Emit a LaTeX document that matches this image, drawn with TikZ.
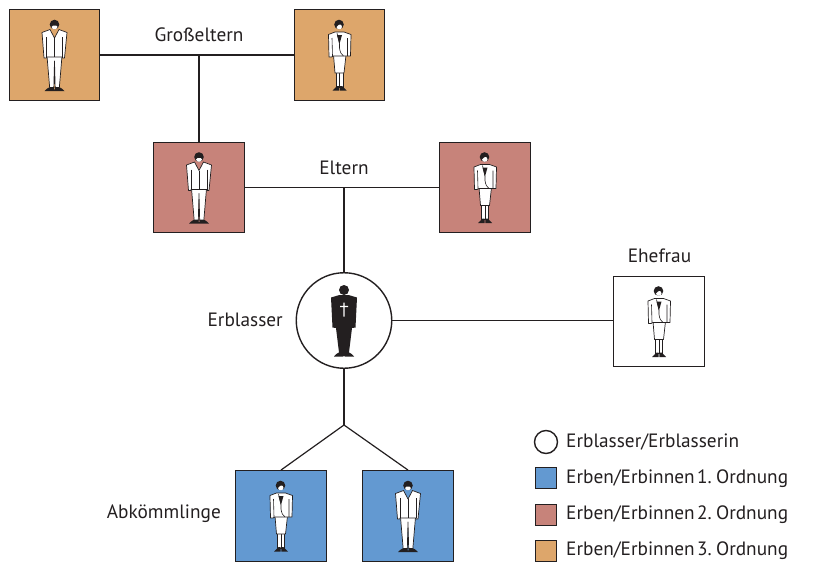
\documentclass[tikz,border=0pt]{standalone}
\usepackage{fontspec}
\setmainfont{PT Sans}
\definecolor{ordnungeins}{HTML}{6399D1}
\definecolor{ordnungzwei}{HTML}{C7837A}
\definecolor{ordnungdrei}{HTML}{DDA66B}
\definecolor{linecolor}{HTML}{231F20}
\tikzset{
  personbox/.style={draw=linecolor,line width=1.4pt,minimum size=90.5pt,inner sep=0pt},
  legendbox/.style={draw=linecolor,line width=1.4pt,minimum size=21.5pt,inner sep=0pt},
  erblasserring/.style={draw=linecolor,line width=1.4pt,fill=white,circle,inner sep=0pt},
  nametext/.style={font=\fontsize{19.3}{22}\selectfont,text=linecolor,inner sep=0pt},
  legendtext/.style={nametext,anchor=west,execute at begin node={\spaceskip=.13em\relax}},
  link/.style={draw=linecolor,line width=1.2pt},
  man/.pic={
    \draw[linecolor,fill=white,line width=.7pt,line join=round]
      (-7.5,1) -- (-4.8,33) -- (-.7,33) -- (0,6) -- (.7,33) -- (4.8,33) -- (7.5,1) -- cycle;
    \draw[linecolor,fill=white,line width=.7pt,line join=round]
      (-4.5,-25.5) -- (-12.5,-22.5) -- (-10.5,3) -- (-8,3) -- (-8,2) -- (8,2) -- (8,3)
      -- (10,3) -- (12.5,-22.5) -- (4.5,-25.5) -- (0,-17) -- cycle;
    \draw[linecolor,line width=.6pt]
      (0,-17) -- (0,2) (-8,-18) -- (-8,2) (8,-18) -- (8,2);
    \fill[linecolor] (0,-30.5) circle (4.8);
    \fill[white] (-3,-28) .. controls (-2,-25) and (2,-25) .. (3,-28) -- (1.5,-29.5) -- (-1.5,-29.5) -- cycle;
    \fill[linecolor] (-10,36) .. controls (-7,33) and (-5,32) .. (-4,32) -- (-.5,32) -- (-.5,34) -- (0,35)
      -- (.5,34) -- (.5,32) -- (4,32) .. controls (5,32) and (7,33) .. (10,36) -- cycle;
  },
  woman/.pic={
    \draw[linecolor,fill=white,line width=.7pt]
      (-3.5,16) rectangle (3.5,32);
    \draw[linecolor,line width=.6pt] (0,17) -- (0,32);
    \draw[linecolor,fill=white,line width=.7pt,line join=round]
      (-6,0) -- (-4.5,18) -- (4.5,18) -- (6.5,0) -- cycle;
    \draw[linecolor,fill=white,line width=.7pt,line join=round]
      (-4.5,-23) -- (-11,-20.5) -- (-10.5,2) -- (-8,2) -- (-6,1) -- (6,1) -- (8,1) -- (11,1)
      -- (11.5,-20.5) -- (4.5,-23) -- cycle;
    \fill[linecolor] (-2.5,-20) -- (2.5,-20) -- (0,-11) -- cycle;
    \draw[linecolor,line width=.6pt]
      (-7.5,-17) -- (-7,1) (8,-17) -- (8,1) (-2.5,-22) -- (0,-11) -- (0,-7) .. controls (.5,-3) and (2,0) .. (4,1);
    \fill[linecolor] (-.5,-30.5) circle (4.8);
    \fill[white] (-3,-28) .. controls (-2.5,-25) and (2,-25) .. (2.5,-28) .. controls (2,-31) and (0,-31) .. (-1,-30) -- cycle;
    \fill[linecolor] (-7,35.5) -- (-2.5,31) -- (-.5,31) -- (-.3,35.5) -- cycle
      (7,35.5) -- (2.5,31) -- (.5,31) -- (.3,35.5) -- cycle;
  },
  verstorben/.pic={
    \fill[linecolor] (-13,-23) -- (-4.5,-25.5) -- (4.5,-25.5) -- (13,-23) -- (11.5,7) -- (8,7.5)
      -- (5,32) .. controls (7,33) and (9,34) .. (10,36) -- (.7,36) -- (0,35) -- (-.7,36) -- (-10,36)
      .. controls (-9,34) and (-7,33) .. (-5,32) -- (-8,7.5) -- (-11.5,7) -- cycle;
    \fill[linecolor] (0,-30.5) circle (5);
    \fill[white] (-.6,-18) rectangle (.6,-4) (-4,-14.6) rectangle (4,-13.4);
  }
}

\begin{document}
\begin{tikzpicture}[x=1pt,y=-1pt]
  \useasboundingbox (0,0) rectangle (814,562);

  % Personen
  \node [personbox,fill=ordnungdrei] (grossvater) at (54.5,55) {};
  \node [personbox,fill=ordnungdrei] (grossmutter) at (339.5,55) {};
  \node [personbox,fill=ordnungzwei] (vater) at (199,187.5) {};
  \node [personbox,fill=ordnungzwei] (mutter) at (485,187.5) {};
  \node [personbox,fill=white] (ehefrau) at (659,321.5) {};
  \node [personbox,fill=ordnungeins] (tochter) at (281,516) {};
  \node [personbox,fill=ordnungeins] (sohn) at (408,516) {};
  \node [erblasserring,minimum size=95.5pt] (erblasser) at (344,320.5) {};

  % Verbindungen
  \coordinate (gabelgross) at (grossvater -| vater);
  \coordinate (gabeleltern) at (vater -| erblasser);
  \coordinate (gabelkinder) at (344,425);
  \path [link] (grossvater) -- (grossmutter);
  \path [link] (gabelgross) -- (vater);
  \path [link] (vater) -- (mutter);
  \path [link] (gabeleltern) -- (erblasser);
  \path [link] (erblasser) -- (ehefrau.west |- erblasser);
  \path [link] (erblasser) -- (gabelkinder);
  \path [link] (gabelkinder) -- (tochter.north);
  \path [link] (gabelkinder) -- (sohn.north);

  \pic at (grossvater) {man};
  \pic at (grossmutter) {woman};
  \pic at (vater) {man};
  \pic at (mutter) {woman};
  \pic at (ehefrau) {woman};
  \pic at (tochter) {woman};
  \pic at (sohn) {man};
  \pic at (erblasser) {verstorben};

  % Beschriftung
  \node [nametext] (grosseltern) at (199,35) {Großeltern};
  \node [nametext] (eltern) at (344,168) {Eltern};
  \node [nametext] (ehefraulabel) at (659.5,256) {Ehefrau};
  \node [nametext,anchor=east] (erblasserlabel) at (283,320) {Erblasser};
  \node [nametext,anchor=east] (abkommlinge) at (221,514) {Abkömmlinge};

  % Legende
  \node [erblasserring,minimum size=23pt] (legkreis) at (546,442) {};
  \node [legendbox,fill=ordnungeins] (legeins) at (546,478) {};
  \node [legendbox,fill=ordnungzwei] (legzwei) at (546,515) {};
  \node [legendbox,fill=ordnungdrei] (legdrei) at (546,551) {};
  \node [legendtext] (texterblasser) at (566,442) {Erblasser/Erblasserin};
  \node [legendtext] (texteins) at (566,479) {Erben/Erbinnen 1. Ordnung};
  \node [legendtext] (textzwei) at (566,515) {Erben/Erbinnen 2. Ordnung};
  \node [legendtext] (textdrei) at (566,551) {Erben/Erbinnen 3. Ordnung};
\end{tikzpicture}
\end{document}
